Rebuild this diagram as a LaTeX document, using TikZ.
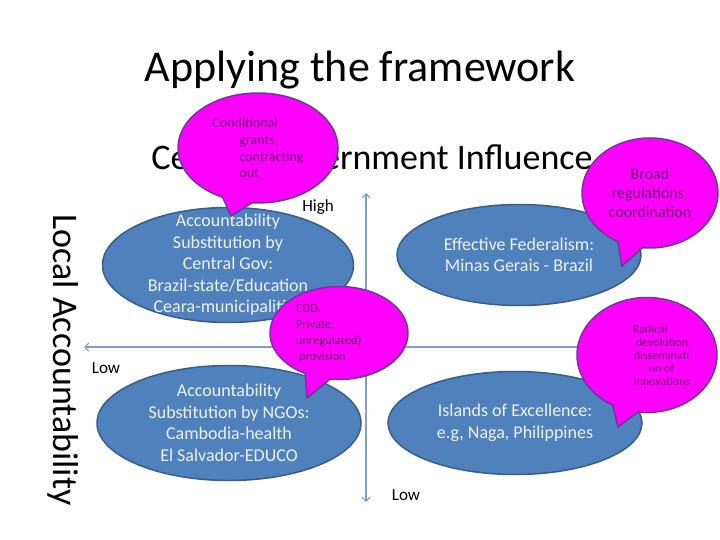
\documentclass[tikz,border=0pt]{standalone}
\usepackage{fontspec}
\setmainfont{Carlito}
\usetikzlibrary{shapes.geometric,shapes.callouts,arrows.meta}
\definecolor{quadfill}{HTML}{4F81BD}
\definecolor{quadline}{HTML}{385D8A}
\definecolor{quadtext}{HTML}{EEF2F8}
\definecolor{bubblefill}{HTML}{FF00FF}
\definecolor{bubbleline}{HTML}{6A3A9A}
\definecolor{bubbletext}{HTML}{6E006E}
\definecolor{axisline}{HTML}{7F9ED0}
\def\fs#1#2{\fontsize{#1}{#2}\selectfont}

\begin{document}
\begin{tikzpicture}[x=1pt, y=-1pt,
		quad/.style={ellipse, draw=quadline, line width=1.5pt, fill=quadfill, text=quadtext, align=center, inner xsep=0pt, inner ysep=-15pt, font=\fs{18}{21.5}},
		bubble/.style={ellipse callout, draw=bubbleline, line width=1.5pt, fill=bubblefill, text=bubbletext, inner sep=0pt, callout pointer arc=22},
		axis/.style={draw=axisline, line width=1.1pt, {Straight Barb[length=4pt,width=8pt]}-{Straight Barb[length=4pt,width=8pt]}}]
		%%%%% START %%%%%
		
		\fill[white] (0, 0) rectangle (720, 540);
		\useasboundingbox (0, 0) rectangle (720, 540);
		
		\node[font=\fs{44}{52}, anchor=base] (title) at (360, 82) {Applying the framework};
		\node[font=\fs{36}{42}, anchor=base] (influence) at (372, 170) {Central Government Influence};
		\node[font=\fs{36}{42}, rotate=-90] (localacc) at (63, 360) {Local Accountability};
		
		\coordinate (vtop) at (366, 193);
		\coordinate (vbot) at (366, 502);
		\coordinate (hleft) at (84, 347);
		\coordinate (hright) at (700, 347);
		\draw[axis] (vbot) -- (vtop);
		\draw[axis] (hright) -- (hleft);
		
		\node[font=\fs{17}{20}] (high) at (318, 207) {High};
		\node[font=\fs{17}{20}] (lowleft) at (106, 368) {Low};
		\node[font=\fs{17}{20}] (lowbottom) at (406, 495) {Low};
		
		\node[quad, minimum width=251pt, minimum height=115pt] (centralgov) at (228, 265) {Accountability\\Substitution by\\Central Gov:\\Brazil-state/Education\\Ceara-municipalities};
		\node[quad, minimum width=244pt, minimum height=101pt] (federalism) at (519, 255) {Effective Federalism:\\Minas Gerais - Brazil};
		\node[quad, minimum width=264pt, minimum height=115pt] (ngos) at (229, 423) {Accountability\\Substitution by NGOs:\\Cambodia-health\\El Salvador-EDUCO};
		\node[quad, minimum width=254pt, minimum height=103pt] (excellence) at (515, 423) {Islands of Excellence:\\e.g, Naga, Philippines};
		
		\node[bubble, minimum width=160pt, minimum height=110pt, align=left, font=\fs{14}{16.7}, callout absolute pointer={(231, 216)}] (grants) at (258, 148) {Conditional\\\hspace*{27pt}grants,\\\hspace*{27pt}contracting\\\hspace*{27pt}out};
		\node[bubble, minimum width=136pt, minimum height=110pt, align=center, font=\fs{16}{19}, callout absolute pointer={(622, 266)}] (regulations) at (650, 193) {Broad\\regulations,\\coordination};
		\node[bubble, minimum width=138pt, minimum height=93pt, align=left, font=\fs{12.5}{16}, callout absolute pointer={(307, 398)}] (private) at (339, 333) {CDD,\\Private,\\\makebox[86pt][l]{unregulated)}\\\hspace*{3pt}provision};
		\node[bubble, minimum width=140pt, minimum height=115pt, align=left, font=\fs{12}{13}, callout absolute pointer={(618, 427)}] (devolution) at (647, 355) {\hspace*{30pt}Radical\\\hspace*{33pt}devolution,\\\hspace*{31pt}disseminati\\\hspace*{46pt}on of\\\hspace*{31pt}innovations};
		
		%%%%% END %%%%%
	\end{tikzpicture}
\end{document}
